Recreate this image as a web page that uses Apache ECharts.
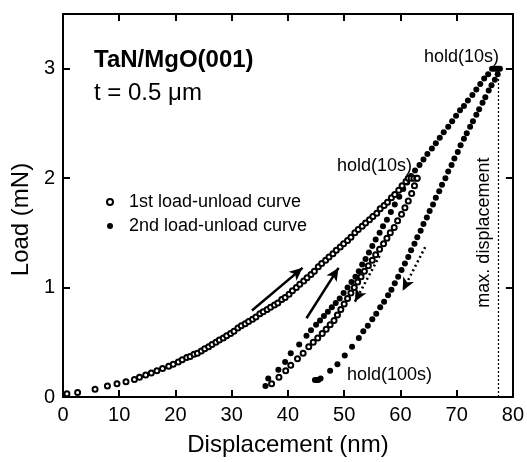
<!DOCTYPE html>
<html>
<head>
<meta charset="utf-8">
<script src="https://cdn.jsdelivr.net/npm/echarts@6/dist/echarts.min.js"></script>
<style>
  html, body { margin: 0; padding: 0; background: #fff; }
  #chart { width: 527px; height: 462px; }
</style>
</head>
<body>
<div id="chart"></div>
<script>
// tick labels
const xTicks = [0, 10, 20, 30, 40, 50, 60, 70, 80];
const yTicks = [0, 1, 2, 3];

// 1st load-unload curve (open circles): [displacement nm, load mN]
const firstLoad = [
  [0.7, 0.03], [2.6, 0.04], [5.7, 0.07], [7.9, 0.10], [9.6, 0.12], [11.2, 0.14],
  [12.7, 0.16], [13.6, 0.18], [14.7, 0.20], [15.7, 0.22], [16.7, 0.24], [17.7, 0.26],
  [18.8, 0.28], [19.6, 0.30], [20.5, 0.32], [21.2, 0.34], [22.0, 0.36], [22.6, 0.37],
  [23.3, 0.39], [23.9, 0.40], [24.6, 0.42], [25.2, 0.44], [25.9, 0.46], [26.5, 0.48],
  [27.2, 0.50], [27.8, 0.52], [28.5, 0.54], [29.1, 0.56], [29.8, 0.58], [30.4, 0.60],
  [31.1, 0.63], [31.7, 0.65], [32.4, 0.67], [33.0, 0.69], [33.7, 0.71], [34.3, 0.73],
  [35.0, 0.76], [35.6, 0.78], [36.3, 0.80], [36.9, 0.82], [37.6, 0.84], [38.2, 0.86],
  [38.9, 0.89], [39.5, 0.91], [40.2, 0.94], [40.8, 0.97], [41.5, 1.00], [42.1, 1.03],
  [42.8, 1.06], [43.4, 1.09], [44.1, 1.12], [44.7, 1.15], [45.4, 1.19], [46.0, 1.22],
  [46.7, 1.25], [47.3, 1.28], [48.0, 1.31], [48.6, 1.34], [49.3, 1.37], [49.9, 1.40],
  [50.6, 1.43], [51.2, 1.46], [51.9, 1.50], [52.5, 1.53], [53.2, 1.56], [53.8, 1.59],
  [54.5, 1.62], [55.1, 1.65], [55.8, 1.68], [56.4, 1.72], [57.1, 1.75], [57.7, 1.78],
  [58.4, 1.82], [59.0, 1.85], [59.7, 1.89], [60.3, 1.93], [61.0, 1.97], [61.4, 2.00]
];
const firstHold = [[61.9, 2.00], [62.4, 2.00], [62.9, 2.00]];
const firstUnload = [
  [63.0, 2.00], [62.5, 1.93], [62.0, 1.86], [61.4, 1.79], [60.8, 1.73], [60.2, 1.67],
  [59.5, 1.61], [58.9, 1.55], [58.2, 1.50], [57.6, 1.45], [57.0, 1.40], [56.3, 1.35],
  [55.6, 1.30], [55.0, 1.25], [54.3, 1.20], [53.6, 1.15], [53.0, 1.10], [52.4, 1.05],
  [51.8, 1.00], [51.2, 0.95], [50.6, 0.90], [50.0, 0.85], [49.4, 0.80], [48.8, 0.75],
  [48.2, 0.70], [47.5, 0.66], [46.8, 0.62], [46.1, 0.58], [45.3, 0.54], [44.5, 0.50],
  [43.7, 0.46], [42.7, 0.40], [41.7, 0.35], [40.5, 0.29], [39.6, 0.24], [38.4, 0.18],
  [37.1, 0.12]
];

// 2nd load-unload curve (filled circles)
const secondLoad = [
  [36.0, 0.10], [36.5, 0.17], [38.3, 0.25], [39.5, 0.32], [40.5, 0.40], [42.0, 0.48],
  [43.3, 0.56], [44.1, 0.61], [45.0, 0.66], [45.7, 0.70], [46.4, 0.74], [47.1, 0.78],
  [47.8, 0.82], [48.5, 0.86], [49.2, 0.90], [49.9, 0.95], [50.6, 1.00], [51.3, 1.05],
  [52.0, 1.10], [52.6, 1.15], [53.2, 1.21], [53.8, 1.26], [54.4, 1.32], [55.0, 1.38],
  [55.6, 1.44], [56.3, 1.50], [56.9, 1.56], [57.6, 1.62], [58.3, 1.69], [59.0, 1.76],
  [59.8, 1.83], [60.5, 1.90], [61.2, 1.96], [61.9, 2.02], [62.6, 2.07], [63.4, 2.12],
  [64.1, 2.17], [64.8, 2.22], [65.6, 2.27], [66.3, 2.32], [67.0, 2.37], [67.7, 2.42],
  [68.5, 2.47], [69.2, 2.52], [69.9, 2.57], [70.6, 2.62], [71.3, 2.66], [72.0, 2.71],
  [72.8, 2.76], [73.5, 2.81], [74.2, 2.86], [74.9, 2.91], [75.6, 2.95], [76.3, 3.00]
];
const secondHold = [[76.7, 3.00], [77.1, 3.00], [77.4, 3.00]];
const secondUnload = [
  [77.7, 3.00], [77.3, 2.95], [76.8, 2.90], [76.2, 2.85], [75.7, 2.80], [75.1, 2.74],
  [74.6, 2.69], [74.0, 2.63], [73.5, 2.58], [72.9, 2.52], [72.4, 2.47], [71.8, 2.41],
  [71.3, 2.36], [70.7, 2.30], [70.2, 2.24], [69.6, 2.18], [69.1, 2.12], [68.5, 2.06],
  [68.0, 2.00], [67.4, 1.94], [66.9, 1.88], [66.3, 1.82], [65.8, 1.76], [65.2, 1.70],
  [64.7, 1.64], [64.1, 1.58], [63.6, 1.52], [63.0, 1.46], [62.5, 1.40], [61.9, 1.34],
  [61.4, 1.28], [60.8, 1.22], [60.2, 1.16], [59.6, 1.10], [59.0, 1.04], [58.4, 0.98],
  [57.8, 0.93], [57.1, 0.87], [56.4, 0.82], [55.7, 0.76], [55.0, 0.71], [54.2, 0.65],
  [53.4, 0.60], [52.6, 0.54], [51.4, 0.46], [50.1, 0.38], [48.8, 0.30], [47.5, 0.24],
  [45.8, 0.17], [45.4, 0.155], [45.1, 0.155], [44.8, 0.155]
];

// arrows: [from, to] in data units
const solidArrows = [
  [[33.6, 0.79], [42.6, 1.18]],
  [[43.3, 0.72], [49.0, 1.18]]
];
const dottedArrows = [
  [[56.3, 1.29], [51.9, 0.87]],
  [[64.4, 1.37], [60.4, 0.97]]
];
const maxDisplacement = 77.4;

const FONT = "'Liberation Sans', Arial, Helvetica, sans-serif";

const chart = echarts.init(document.getElementById("chart"), null, { renderer: "canvas" });

const axisCommon = {
  axisLine: { show: true, onZero: false, lineStyle: { color: "#000", width: 2 } },
  axisTick: { show: true, inside: true, length: 7, lineStyle: { color: "#000", width: 2 } },
  splitLine: { show: false },
};

function arrowLine(pair, dotted) {
  return [
    { coord: pair[0], symbol: "none" },
    {
      coord: pair[1],
      symbol: "arrow",
      symbolSize: [9, 13],
      lineStyle: { color: "#000", width: 2.5, type: dotted ? [2, 3] : "solid" },
    },
  ];
}

const option = {
  backgroundColor: "#fff",
  animation: false,
  grid: { left: 63, right: 14, top: 14, bottom: 64 },
  xAxis: [
    {
      ...axisCommon,
      type: "value",
      min: 0, max: 80, interval: 10,
      position: "bottom",
      name: "Displacement (nm)",
      nameLocation: "middle",
      nameGap: 36,
      nameTextStyle: { fontFamily: FONT, fontSize: 24, color: "#000" },
      axisLabel: {
        margin: 8, fontFamily: FONT, fontSize: 20, color: "#000",
        formatter: (v) => (xTicks.includes(v) ? String(v) : ""),
      },
    },
    {
      ...axisCommon,
      type: "value",
      min: 0, max: 80, interval: 10,
      position: "top",
      axisLabel: { show: false },
    },
  ],
  yAxis: [
    {
      ...axisCommon,
      type: "value",
      min: 0, max: 3.5, interval: 1,
      position: "left",
      name: "Load (mN)",
      nameLocation: "middle",
      nameGap: 30,
      nameTextStyle: { fontFamily: FONT, fontSize: 24, color: "#000", padding: [0, 28, 0, 0] },
      axisLabel: {
        margin: 8, fontFamily: FONT, fontSize: 20, color: "#000", showMaxLabel: false,
        formatter: (v) => (yTicks.includes(v) ? String(v) : ""),
      },
    },
    {
      ...axisCommon,
      type: "value",
      min: 0, max: 3.5, interval: 1,
      position: "right",
      axisLabel: { show: false },
    },
  ],
  legend: {
    orient: "vertical",
    left: 101,
    top: 187,
    itemWidth: 6,
    itemHeight: 6,
    itemGap: 4,
    textStyle: { fontFamily: FONT, fontSize: 18, color: "#000", padding: [0, 0, 0, 11], lineHeight: 20 },
    data: [
      { name: "1st load-unload curve", icon: "emptyCircle", itemStyle: { color: "#000", borderColor: "#000", borderWidth: 1 } },
      { name: "2nd load-unload curve", icon: "circle", itemStyle: { color: "#000" } },
    ],
  },
  series: [
    {
      name: "2nd load-unload curve",
      type: "scatter",
      symbol: "circle",
      symbolSize: 6,
      itemStyle: { color: "#000", opacity: 1 },
      data: [...secondLoad, ...secondHold, ...secondUnload],
      markLine: {
        silent: true,
        animation: false,
        label: { show: false },
        symbol: ["none", "none"],
        lineStyle: { color: "#000", width: 1.2, type: [2, 2] },
        data: [
          [{ coord: [maxDisplacement, 0] }, { coord: [maxDisplacement, 3] }],
          ...solidArrows.map((p) => arrowLine(p, false)),
          ...dottedArrows.map((p) => arrowLine(p, true)),
        ],
      },
    },
    {
      name: "1st load-unload curve",
      type: "scatter",
      symbol: "emptyCircle",
      symbolSize: 5,
      itemStyle: { color: "#000", borderColor: "#000", borderWidth: 1, opacity: 1 },
      data: [...firstLoad, ...firstHold, ...firstUnload],
    },
  ],
  graphic: [
    {
      type: "text", x: 94, y: 60.5,
      style: { text: "TaN/MgO(001)", font: "bold 24px " + FONT, fill: "#000",
        textAlign: "left", textVerticalAlign: "middle", align: "left", verticalAlign: "middle" },
    },
    {
      type: "text", x: 94, y: 93,
      style: { text: "t = 0.5 μm", font: "24px " + FONT, fill: "#000",
        textAlign: "left", textVerticalAlign: "middle", align: "left", verticalAlign: "middle" },
    },
    {
      type: "text", x: 461.5, y: 57,
      style: { text: "hold(10s)", font: "18px " + FONT, fill: "#000",
        textAlign: "center", textVerticalAlign: "middle", align: "center", verticalAlign: "middle" },
    },
    {
      type: "text", x: 374.5, y: 166.5,
      style: { text: "hold(10s)", font: "18px " + FONT, fill: "#000",
        textAlign: "center", textVerticalAlign: "middle", align: "center", verticalAlign: "middle" },
    },
    {
      type: "text", x: 347, y: 375,
      style: { text: "hold(100s)", font: "18px " + FONT, fill: "#000",
        textAlign: "left", textVerticalAlign: "middle", align: "left", verticalAlign: "middle" },
    },
    {
      type: "text", x: 484.5, y: 232.6, rotation: Math.PI / 2,
      style: { text: "max. displacement", font: "18px " + FONT, fill: "#000",
        textAlign: "center", textVerticalAlign: "middle", align: "center", verticalAlign: "middle" },
    },
  ],
};

chart.setOption(option);
</script>
</body>
</html>
